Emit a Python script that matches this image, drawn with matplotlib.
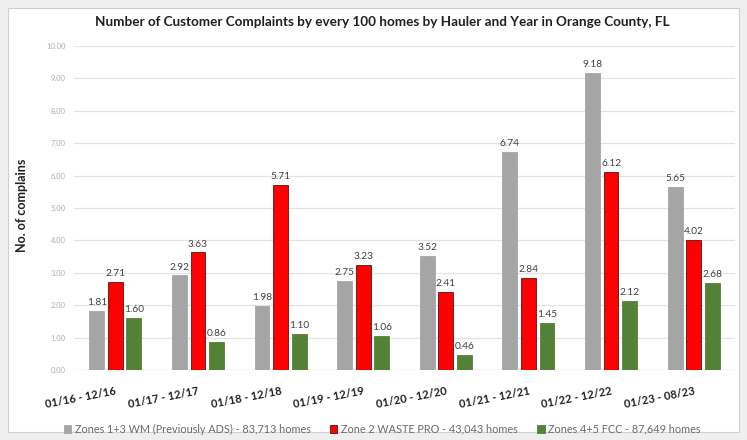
import numpy as np
import matplotlib
matplotlib.use("Agg")
import matplotlib.pyplot as plt
from matplotlib.patches import Rectangle

plt.rcParams['font.family'] = ['Lato', 'DejaVu Sans']

# Data ##########################################
periods = ["01/16 - 12/16", "01/17 - 12/17", "01/18 - 12/18", "01/19 - 12/19",
           "01/20 - 12/20", "01/21 - 12/21", "01/22 - 12/22", "01/23 - 08/23"]
wm_ads    = [1.81, 2.92, 1.98, 2.75, 3.52, 6.74, 9.18, 5.65]
waste_pro = [2.71, 3.63, 5.71, 3.23, 2.41, 2.84, 6.12, 4.02]
fcc       = [1.60, 0.86, 1.10, 1.06, 0.46, 1.45, 2.12, 2.68]
series_names = ["Zones 1+3 WM (Previously ADS) - 83,713 homes",
                "Zone 2 WASTE PRO - 43,043 homes",
                "Zones 4+5 FCC - 87,649 homes"]
yticks = np.arange(0, 11, 1)

# Figure ########################################
fig = plt.figure(figsize=(7.47, 4.40), dpi=100)
fig.patch.set_facecolor("#efefef")
fig.patches.append(Rectangle((8/747, 8/440), 731/747, 424/440, transform=fig.transFigure,
                             facecolor="white", edgecolor="#d0d0d0", lw=0.8, zorder=-10))

ax = fig.add_axes([74/747, (440-370)/440, 661/747, 324/440])
ax.set_facecolor("none")

x = np.arange(len(periods))
w = 0.18
off = 0.224
colors = ["#a5a5a5", "#ff0000", "#538135"]
edges = ["#a5a5a5", "#5a1010", "#538135"]
for i, vals in enumerate([wm_ads, waste_pro, fcc]):
    pos = x + (i - 1) * off
    ax.bar(pos, vals, width=w, color=colors[i], edgecolor=edges[i], lw=0.6,
           label=series_names[i], zorder=3)
    for px, v in zip(pos, vals):
        ax.text(px, v + 0.12, f"{v:.2f}", ha="center", va="bottom",
                fontsize=7.3, color="#404040", zorder=4)

ax.set_xlim(-0.5, len(periods) - 0.5)
ax.set_ylim(0, 10)
ax.set_yticks(yticks)
ax.set_yticklabels([f"{v:.2f}" for v in yticks], fontsize=5.5, color="#b0b0b0")
ax.grid(axis="y", color="#e3e3e3", lw=0.9, zorder=0)
ax.tick_params(axis="both", length=0)
ax.tick_params(axis="y", pad=6)
for s in ax.spines.values():
    s.set_visible(False)
ax.axhline(0, color="#e0e0e0", lw=0.9, zorder=2)

ax.set_xticks(x)
ax.set_xticklabels(periods, rotation=11, fontsize=8, fontweight="bold",
                   color="#202020", ha="right", rotation_mode="anchor")
ax.tick_params(axis="x", pad=11)

fig.text(22/747, (440-205)/440, "No. of complains", rotation=90, ha="center",
         va="center", fontsize=9, fontweight="bold", color="#202020")
fig.text(382/747, (440-22)/440,
         "Number of Customer Complaints by every 100 homes by Hauler and Year in Orange County, FL",
         ha="center", va="center", fontsize=9.7, fontweight="bold", color="#202020")

fig.legend(loc="center", bbox_to_anchor=(382/747, (440-429)/440), ncol=3,
           frameon=False, fontsize=7.8, labelcolor="#6a6a6a", handlelength=0.7,
           handleheight=0.7, handletextpad=0.3, columnspacing=1.8)

fig.savefig("out.png", dpi=100, facecolor=fig.get_facecolor())
